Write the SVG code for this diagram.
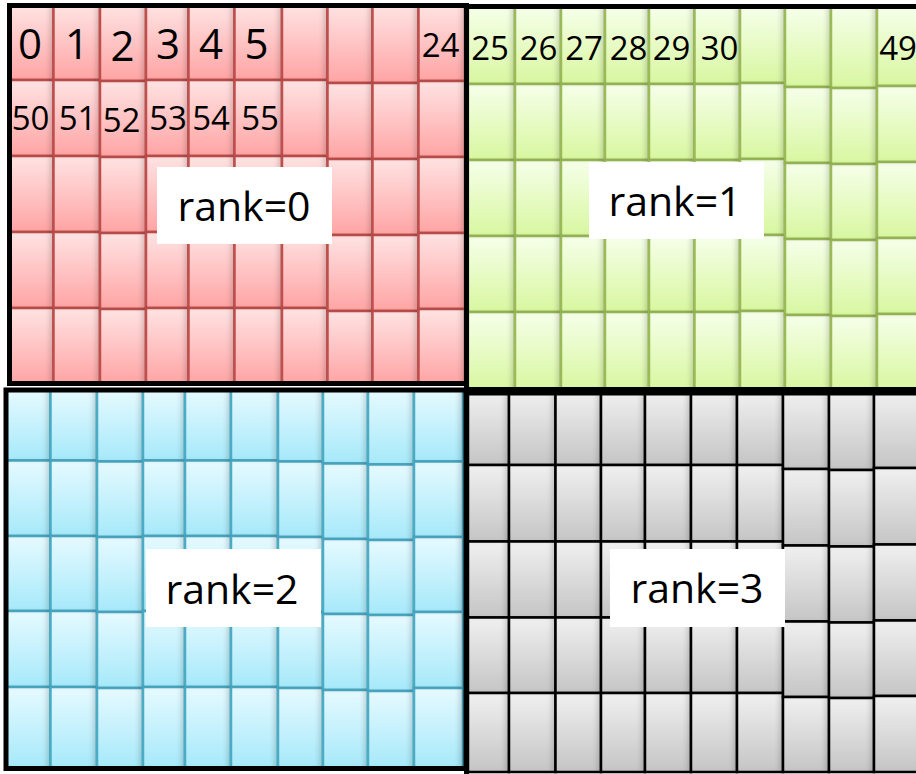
<svg xmlns="http://www.w3.org/2000/svg" width="916" height="774" viewBox="0 0 916 774">
<defs>
<linearGradient id="gR" x1="0" y1="0" x2="0" y2="1"><stop offset="0" stop-color="#ffe3e3"/><stop offset="1" stop-color="#ffa4a4"/></linearGradient>
<linearGradient id="gG" x1="0" y1="0" x2="0" y2="1"><stop offset="0" stop-color="#f6ffea"/><stop offset="1" stop-color="#d8f7a0"/></linearGradient>
<linearGradient id="gB" x1="0" y1="0" x2="0" y2="1"><stop offset="0" stop-color="#e6faff"/><stop offset="1" stop-color="#a6e9fa"/></linearGradient>
<linearGradient id="gK" x1="0" y1="0" x2="0" y2="1"><stop offset="0" stop-color="#f0f0f0"/><stop offset="1" stop-color="#c5c5c5"/></linearGradient>
<filter id="ins" x="-0.1" y="-0.05" width="1.2" height="1.1" color-interpolation-filters="sRGB">
<feOffset in="SourceAlpha" dx="-5" dy="0" result="o"/>
<feGaussianBlur in="o" stdDeviation="2.5" result="bl"/>
<feComposite in="SourceAlpha" in2="bl" operator="out" result="e"/>
<feFlood flood-color="#000" flood-opacity="0.16"/>
<feComposite in2="e" operator="in" result="s"/>
<feMerge><feMergeNode in="SourceGraphic"/><feMergeNode in="s"/></feMerge>
</filter>
</defs>
<style>
.r rect,.g rect,.b rect,.k rect{stroke-width:2.5;filter:url(#ins)}
.r rect{fill:url(#gR);stroke:#c0504d}
.g rect{fill:url(#gG);stroke:#9bbb59}
.b rect{fill:url(#gB);stroke:#4bacc6}
.k rect{fill:url(#gK);stroke:#000}
.frame{fill:none;stroke:#000;stroke-width:5}
.lbox{fill:#fff}
.lt{font-family:"Open Sans","Noto Sans",sans-serif;font-size:41px;fill:#000;text-anchor:middle}
.n1{font-family:"Open Sans","Noto Sans",sans-serif;font-size:42px;fill:#000;text-anchor:middle}
.n2{font-family:"Open Sans","Noto Sans",sans-serif;font-size:33px;fill:#000;text-anchor:middle}
</style>
<rect width="916" height="774" fill="#fff"/>

<g id="rank0-block" class="r">
<rect x="10" y="5" width="43.5" height="75"/><rect x="10" y="80" width="43.5" height="76"/><rect x="10" y="156" width="43.5" height="76"/><rect x="10" y="232" width="43.5" height="76"/><rect x="10" y="308" width="43.5" height="76"/>
<rect x="53.5" y="5" width="46.5" height="75"/><rect x="53.5" y="80" width="46.5" height="76"/><rect x="53.5" y="156" width="46.5" height="76"/><rect x="53.5" y="232" width="46.5" height="76"/><rect x="53.5" y="308" width="46.5" height="76"/>
<rect x="100" y="5" width="46" height="76"/><rect x="100" y="81" width="46" height="76"/><rect x="100" y="157" width="46" height="76"/><rect x="100" y="233" width="46" height="76"/><rect x="100" y="309" width="46" height="75"/>
<rect x="146" y="5" width="42.5" height="75"/><rect x="146" y="80" width="42.5" height="76"/><rect x="146" y="156" width="42.5" height="76"/><rect x="146" y="232" width="42.5" height="76"/><rect x="146" y="308" width="42.5" height="76"/>
<rect x="188.5" y="5" width="46" height="75"/><rect x="188.5" y="80" width="46" height="76"/><rect x="188.5" y="156" width="46" height="76"/><rect x="188.5" y="232" width="46" height="76"/><rect x="188.5" y="308" width="46" height="76"/>
<rect x="234.5" y="5" width="47.5" height="75"/><rect x="234.5" y="80" width="47.5" height="76"/><rect x="234.5" y="156" width="47.5" height="76"/><rect x="234.5" y="232" width="47.5" height="76"/><rect x="234.5" y="308" width="47.5" height="76"/>
<rect x="282" y="5" width="45.5" height="75"/><rect x="282" y="80" width="45.5" height="76"/><rect x="282" y="156" width="45.5" height="76"/><rect x="282" y="232" width="45.5" height="76"/><rect x="282" y="308" width="45.5" height="76"/>
<rect x="327.5" y="5" width="45" height="78"/><rect x="327.5" y="83" width="45" height="76"/><rect x="327.5" y="159" width="45" height="76"/><rect x="327.5" y="235" width="45" height="76"/><rect x="327.5" y="311" width="45" height="73"/>
<rect x="372.5" y="5" width="46" height="78"/><rect x="372.5" y="83" width="46" height="76"/><rect x="372.5" y="159" width="46" height="76"/><rect x="372.5" y="235" width="46" height="76"/><rect x="372.5" y="311" width="46" height="73"/>
<rect x="418.5" y="5" width="46.5" height="76"/><rect x="418.5" y="81" width="46.5" height="76"/><rect x="418.5" y="157" width="46.5" height="76"/><rect x="418.5" y="233" width="46.5" height="76"/><rect x="418.5" y="309" width="46.5" height="75"/>
</g>

<g id="rank1-block" class="g">
<rect x="468" y="7" width="47" height="77"/><rect x="468" y="84" width="47" height="76"/><rect x="468" y="160" width="47" height="76"/><rect x="468" y="236" width="47" height="76"/><rect x="468" y="312" width="47" height="78"/>
<rect x="515" y="7" width="46" height="77"/><rect x="515" y="84" width="46" height="76"/><rect x="515" y="160" width="46" height="76"/><rect x="515" y="236" width="46" height="76"/><rect x="515" y="312" width="46" height="78"/>
<rect x="561" y="7" width="44" height="77"/><rect x="561" y="84" width="44" height="76"/><rect x="561" y="160" width="44" height="76"/><rect x="561" y="236" width="44" height="76"/><rect x="561" y="312" width="44" height="78"/>
<rect x="605" y="7" width="44" height="77"/><rect x="605" y="84" width="44" height="76"/><rect x="605" y="160" width="44" height="76"/><rect x="605" y="236" width="44" height="76"/><rect x="605" y="312" width="44" height="78"/>
<rect x="649" y="7" width="45.5" height="77"/><rect x="649" y="84" width="45.5" height="76"/><rect x="649" y="160" width="45.5" height="76"/><rect x="649" y="236" width="45.5" height="76"/><rect x="649" y="312" width="45.5" height="78"/>
<rect x="694.5" y="7" width="45.5" height="77"/><rect x="694.5" y="84" width="45.5" height="76"/><rect x="694.5" y="160" width="45.5" height="76"/><rect x="694.5" y="236" width="45.5" height="76"/><rect x="694.5" y="312" width="45.5" height="78"/>
<rect x="740" y="7" width="45" height="76"/><rect x="740" y="83" width="45" height="76"/><rect x="740" y="159" width="45" height="76"/><rect x="740" y="235" width="45" height="76"/><rect x="740" y="311" width="45" height="79"/>
<rect x="785" y="7" width="46" height="80"/><rect x="785" y="87" width="46" height="76"/><rect x="785" y="163" width="46" height="76"/><rect x="785" y="239" width="46" height="76"/><rect x="785" y="315" width="46" height="75"/>
<rect x="831" y="7" width="46" height="81"/><rect x="831" y="88" width="46" height="76"/><rect x="831" y="164" width="46" height="76"/><rect x="831" y="240" width="46" height="76"/><rect x="831" y="316" width="46" height="74"/>
<rect x="877" y="7" width="48" height="79"/><rect x="877" y="86" width="48" height="76"/><rect x="877" y="162" width="48" height="76"/><rect x="877" y="238" width="48" height="76"/><rect x="877" y="314" width="48" height="76"/>
</g>

<g id="rank2-block" class="b">
<rect x="6" y="390" width="44.5" height="70.5"/><rect x="6" y="460.5" width="44.5" height="75.5"/><rect x="6" y="536" width="44.5" height="75"/><rect x="6" y="611" width="44.5" height="76"/><rect x="6" y="687" width="44.5" height="81"/>
<rect x="50.5" y="390" width="46.5" height="70.5"/><rect x="50.5" y="460.5" width="46.5" height="75.5"/><rect x="50.5" y="536" width="46.5" height="75"/><rect x="50.5" y="611" width="46.5" height="76"/><rect x="50.5" y="687" width="46.5" height="81"/>
<rect x="97" y="390" width="46" height="71.5"/><rect x="97" y="461.5" width="46" height="75.5"/><rect x="97" y="537" width="46" height="75"/><rect x="97" y="612" width="46" height="76"/><rect x="97" y="688" width="46" height="80"/>
<rect x="143" y="390" width="42" height="70.5"/><rect x="143" y="460.5" width="42" height="75.5"/><rect x="143" y="536" width="42" height="75"/><rect x="143" y="611" width="42" height="76"/><rect x="143" y="687" width="42" height="81"/>
<rect x="185" y="390" width="46" height="70.5"/><rect x="185" y="460.5" width="46" height="75.5"/><rect x="185" y="536" width="46" height="75"/><rect x="185" y="611" width="46" height="76"/><rect x="185" y="687" width="46" height="81"/>
<rect x="231" y="390" width="47" height="70.5"/><rect x="231" y="460.5" width="47" height="75.5"/><rect x="231" y="536" width="47" height="75"/><rect x="231" y="611" width="47" height="76"/><rect x="231" y="687" width="47" height="81"/>
<rect x="278" y="390" width="45" height="71.5"/><rect x="278" y="461.5" width="45" height="75.5"/><rect x="278" y="537" width="45" height="75"/><rect x="278" y="612" width="45" height="76"/><rect x="278" y="688" width="45" height="80"/>
<rect x="323" y="390" width="45" height="73.5"/><rect x="323" y="463.5" width="45" height="75.5"/><rect x="323" y="539" width="45" height="75"/><rect x="323" y="614" width="45" height="76"/><rect x="323" y="690" width="45" height="78"/>
<rect x="368" y="390" width="46" height="74.5"/><rect x="368" y="464.5" width="46" height="75.5"/><rect x="368" y="540" width="46" height="75"/><rect x="368" y="615" width="46" height="76"/><rect x="368" y="691" width="46" height="77"/>
<rect x="414" y="390" width="49" height="71.5"/><rect x="414" y="461.5" width="49" height="75.5"/><rect x="414" y="537" width="49" height="75"/><rect x="414" y="612" width="49" height="76"/><rect x="414" y="688" width="49" height="80"/>
</g>

<g id="rank3-block" class="k">
<rect x="468" y="391" width="41" height="74"/><rect x="468" y="465" width="41" height="76.5"/><rect x="468" y="541.5" width="41" height="76"/><rect x="468" y="617.5" width="41" height="75.5"/><rect x="468" y="693" width="41" height="79"/>
<rect x="509" y="391" width="46.5" height="74"/><rect x="509" y="465" width="46.5" height="76.5"/><rect x="509" y="541.5" width="46.5" height="76"/><rect x="509" y="617.5" width="46.5" height="75.5"/><rect x="509" y="693" width="46.5" height="79"/>
<rect x="555.5" y="391" width="45.5" height="74"/><rect x="555.5" y="465" width="45.5" height="76.5"/><rect x="555.5" y="541.5" width="45.5" height="76"/><rect x="555.5" y="617.5" width="45.5" height="75.5"/><rect x="555.5" y="693" width="45.5" height="79"/>
<rect x="601" y="391" width="44" height="74"/><rect x="601" y="465" width="44" height="76.5"/><rect x="601" y="541.5" width="44" height="76"/><rect x="601" y="617.5" width="44" height="75.5"/><rect x="601" y="693" width="44" height="79"/>
<rect x="645" y="391" width="46" height="74"/><rect x="645" y="465" width="46" height="76.5"/><rect x="645" y="541.5" width="46" height="76"/><rect x="645" y="617.5" width="46" height="75.5"/><rect x="645" y="693" width="46" height="79"/>
<rect x="691" y="391" width="46" height="74"/><rect x="691" y="465" width="46" height="76.5"/><rect x="691" y="541.5" width="46" height="76"/><rect x="691" y="617.5" width="46" height="75.5"/><rect x="691" y="693" width="46" height="79"/>
<rect x="737" y="391" width="46" height="74"/><rect x="737" y="465" width="46" height="76.5"/><rect x="737" y="541.5" width="46" height="76"/><rect x="737" y="617.5" width="46" height="75.5"/><rect x="737" y="693" width="46" height="79"/>
<rect x="783" y="391" width="46" height="78"/><rect x="783" y="469" width="46" height="76.5"/><rect x="783" y="545.5" width="46" height="76"/><rect x="783" y="621.5" width="46" height="75.5"/><rect x="783" y="697" width="46" height="75"/>
<rect x="829" y="391" width="45" height="79"/><rect x="829" y="470" width="45" height="76.5"/><rect x="829" y="546.5" width="45" height="76"/><rect x="829" y="622.5" width="45" height="75.5"/><rect x="829" y="698" width="45" height="74"/>
<rect x="874" y="391" width="51" height="77"/><rect x="874" y="468" width="51" height="76.5"/><rect x="874" y="544.5" width="51" height="76"/><rect x="874" y="620.5" width="51" height="75.5"/><rect x="874" y="696" width="51" height="76"/>
</g>

<g id="frames">
<rect class="frame" x="9.5" y="5.5" width="457" height="378"/>
<rect class="frame" x="466.5" y="6.5" width="460" height="383"/>
<rect class="frame" x="6" y="390" width="460" height="378.5"/>
<rect class="frame" x="466.5" y="393" width="460" height="390"/>
</g>

<g id="indices">
<text class="n1" x="30" y="59">0</text><text class="n1" x="77" y="59">1</text><text class="n1" x="122.5" y="61">2</text><text class="n1" x="168" y="59">3</text><text class="n1" x="211" y="59">4</text><text class="n1" x="256.5" y="59">5</text>
<text class="n2" x="440.5" y="57">24</text>
<text class="n2" x="490" y="60">25</text><text class="n2" x="538.5" y="60">26</text><text class="n2" x="584" y="60">27</text><text class="n2" x="628.5" y="60">28</text><text class="n2" x="671.5" y="60">29</text><text class="n2" x="719.5" y="60">30</text><text class="n2" x="898" y="60">49</text>
<text class="n2" x="30.5" y="130">50</text><text class="n2" x="77.5" y="130">51</text><text class="n2" x="121.5" y="132">52</text><text class="n2" x="168" y="130">53</text><text class="n2" x="211" y="130">54</text><text class="n2" x="260" y="130">55</text>
</g>

<g id="label-rank0"><rect class="lbox" x="157" y="167" width="175" height="77"/><text class="lt" x="244" y="221">rank=0</text></g>
<g id="label-rank1"><rect class="lbox" x="589" y="162" width="175" height="77"/><text class="lt" x="675" y="216">rank=1</text></g>
<g id="label-rank2"><rect class="lbox" x="146" y="549" width="175" height="78"/><text class="lt" x="232" y="604">rank=2</text></g>
<g id="label-rank3"><rect class="lbox" x="610" y="549" width="175" height="78"/><text class="lt" x="697" y="603">rank=3</text></g>
</svg>
